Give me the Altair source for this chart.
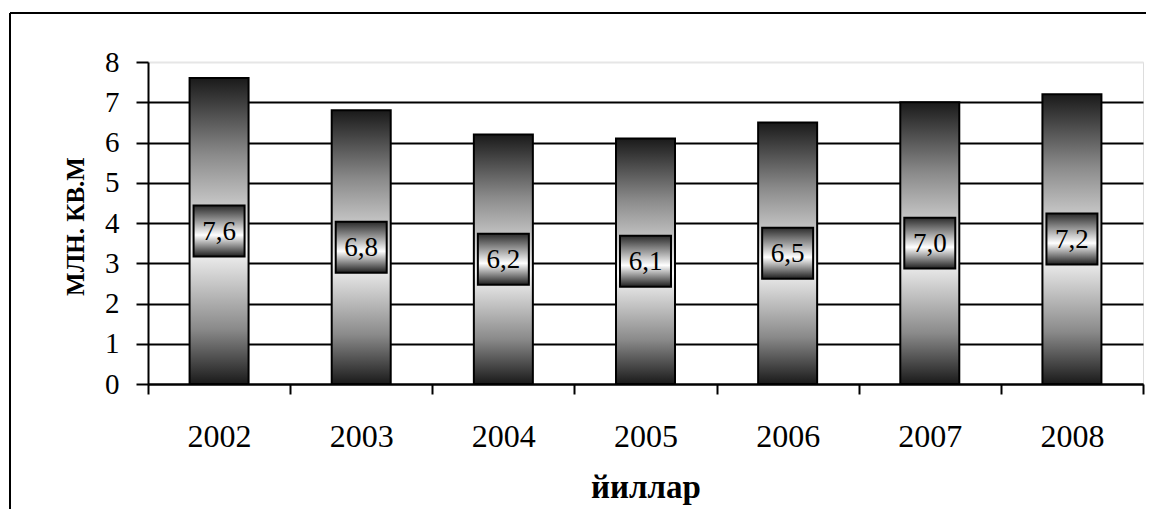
import altair as alt
import pandas as pd

years = ["2002", "2003", "2004", "2005", "2006", "2007", "2008"]
values = [7.6, 6.8, 6.2, 6.1, 6.5, 7.0, 7.2]
y_ticks = [0, 1, 2, 3, 4, 5, 6, 7, 8]

df = pd.DataFrame({"year": years, "value": values})

FONT = "Liberation Serif"

bar_grad = alt.Gradient(
    gradient="linear", x1=0, x2=0, y1=0, y2=1,
    stops=[
        alt.GradientStop(color="#1a1a1a", offset=0),
        alt.GradientStop(color="#8a8a8a", offset=0.25),
        alt.GradientStop(color="#f8f8f8", offset=0.55),
        alt.GradientStop(color="#8a8a8a", offset=0.82),
        alt.GradientStop(color="#1a1a1a", offset=1),
    ],
)
box_grad = alt.Gradient(
    gradient="linear", x1=0, x2=0, y1=0, y2=1,
    stops=[
        alt.GradientStop(color="#2a2a2a", offset=0),
        alt.GradientStop(color="#ffffff", offset=0.58),
        alt.GradientStop(color="#1e1e1e", offset=1),
    ],
)

x_enc = alt.X(
    "year:N",
    sort=years,
    scale=alt.Scale(paddingInner=0, paddingOuter=0),
    axis=alt.Axis(
        title="йиллар",
        labelAngle=0,
        labelFont=FONT,
        labelFontSize=32,
        labelColor="black",
        labelBaseline="alphabetic",
        labelPadding=52,
        tickBand="extent",
        tickSize=10,
        tickWidth=2,
        tickColor="black",
        domainColor="black",
        domainWidth=2,
        titleFont=FONT,
        titleFontSize=33,
        titleFontWeight="bold",
        titleColor="black",
        titleBaseline="alphabetic",
        titleY=113,
        titleAlign="center",
        grid=False,
    ),
)

y_scale = alt.Scale(domain=[0, 8], nice=False)

bars = alt.Chart(df).mark_bar(
    size=59, fill=bar_grad, stroke="black", strokeWidth=2
).encode(
    x=x_enc,
    y=alt.Y(
        "value:Q",
        scale=y_scale,
        axis=alt.Axis(
            title="МЛН. КВ.М",
            values=y_ticks,
            labelFont=FONT,
            labelFontSize=29,
            labelColor="black",
            labelPadding=17,
            tickSize=12,
            tickWidth=2,
            tickColor="black",
            domainColor="black",
            domainWidth=2,
            grid=True,
            gridWidth=2,
            gridColor={"condition": {"test": "datum.value === 8", "value": "#e6e6e6"}, "value": "black"},
            titleFont=FONT,
            titleFontSize=25,
            titleFontWeight="bold",
            titleColor="black",
            titleAngle=270,
            titleAlign="center",
            titleBaseline="alphabetic",
            titleX=-65,
            titleY=164,
        ),
    ),
)

base_lbl = alt.Chart(df).transform_calculate(
    mid="datum.value / 2",
    label="replace(format(datum.value, '.1f'), '.', ',')",
)

boxes = base_lbl.mark_point(
    shape="square", filled=True, size=2600, fill=box_grad,
    stroke="black", strokeWidth=2, opacity=1, fillOpacity=1,
).encode(
    x=alt.X("year:N", sort=years),
    y=alt.Y("mid:Q", scale=y_scale),
)

texts = base_lbl.mark_text(
    font=FONT, fontSize=27, color="black", baseline="middle", align="center", dy=1
).encode(
    x=alt.X("year:N", sort=years),
    y=alt.Y("mid:Q", scale=y_scale),
    text="label:N",
)

frame_src = pd.DataFrame({"a": [0]})
frame_top = alt.Chart(frame_src).mark_rule(
    color="black", strokeWidth=2, clip=False
).encode(
    x=alt.value(-138), x2=alt.value(1010), y=alt.value(-49), y2=alt.value(-49),
)
frame_left = alt.Chart(frame_src).mark_rule(
    color="black", strokeWidth=2, clip=False
).encode(
    x=alt.value(-138), x2=alt.value(-138), y=alt.value(-49), y2=alt.value(480),
)

chart = alt.layer(frame_top, frame_left, bars, boxes, texts).properties(
    width=995, height=322,
    autosize=alt.AutoSizeParams(type="none"),
    padding={"left": 140, "top": 54, "right": 3, "bottom": 125},
).configure_view(strokeWidth=0, stroke=None).configure(background="white")

chart.save("out.html", embed_options={"renderer": "svg", "actions": False})
